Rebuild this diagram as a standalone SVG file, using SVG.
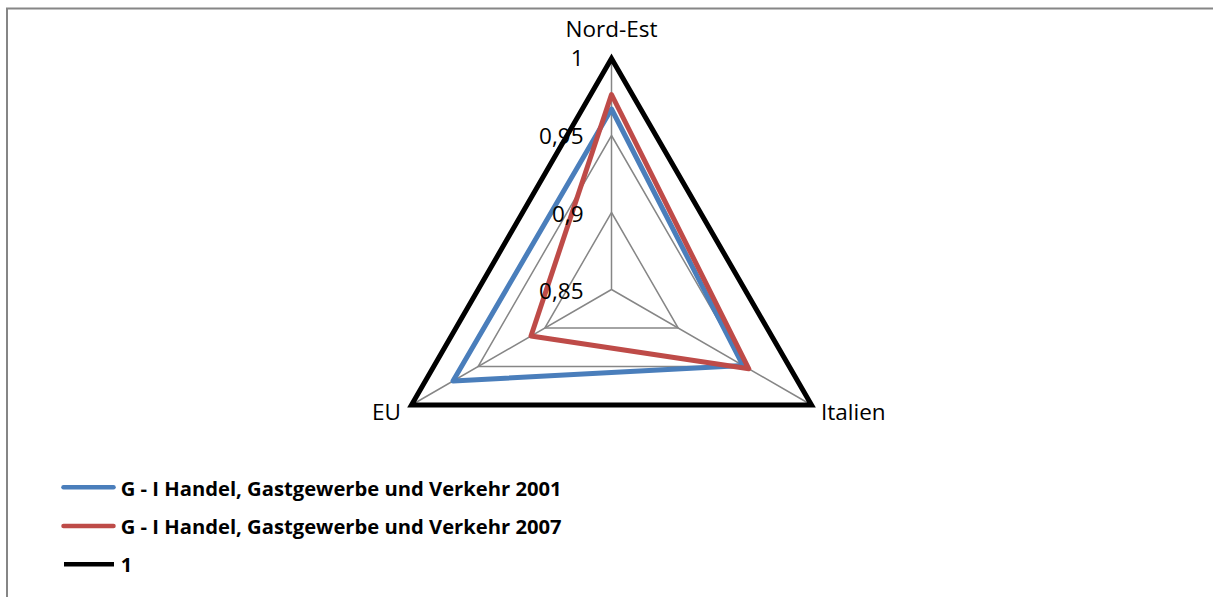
<svg xmlns="http://www.w3.org/2000/svg" width="1213" height="597" viewBox="0 0 1213 597">
<style>
.frame{fill:none;stroke:#868686;stroke-width:2}
.grid{fill:none;stroke:#868686;stroke-width:1.5}
.s1{fill:none;stroke:#4A7EBB;stroke-width:5;stroke-linejoin:round}
.s2{fill:none;stroke:#BE4B48;stroke-width:5;stroke-linejoin:round}
.s3{fill:none;stroke:#000;stroke-width:5;stroke-linejoin:miter;stroke-miterlimit:10}
.lab{font-family:"Open Sans","Liberation Sans",sans-serif;font-size:22.5px;fill:#000}
.leg{font-family:"Open Sans","Liberation Sans",sans-serif;font-size:20px;font-weight:bold;fill:#000}
</style>
<rect x="0" y="0" width="1213" height="597" fill="#fff"/>
<path class="frame" d="M7,597 V8.5 H1213"/>
<g id="grid">
<path class="grid" d="M611.5,289.5 L611.5,58.5 M611.5,289.5 L811.5,405 M611.5,289.5 L411.5,405"/>
<polygon class="grid" points="611.5,212.5 678.2,328 544.8,328"/>
<polygon class="grid" points="611.5,135.5 744.9,366.5 478.1,366.5"/>
</g>
<g id="connectors">
<polygon id="series-2001" class="s1" points="611.5,109 742.9,365.4 453,381"/>
<polygon id="series-2007" class="s2" points="611.5,94.5 748.8,368.8 531,336"/>
<polygon id="series-1" class="s3" points="611.5,58.5 811.5,405 411.5,405"/>
</g>
<g id="axis-labels">
<text id="nord-est" class="lab" x="611.5" y="37" text-anchor="middle">Nord-Est</text>
<text id="eu" class="lab" x="401" y="419.5" text-anchor="end">EU</text>
<text id="italien" class="lab" x="821" y="419.5">Italien</text>
</g>
<g id="scale-labels">
<text class="lab" x="583.5" y="66" text-anchor="end">1</text>
<text class="lab" x="583.5" y="143.5" text-anchor="end">0,95</text>
<text class="lab" x="583.5" y="221.5" text-anchor="end">0,9</text>
<text class="lab" x="583.5" y="298.5" text-anchor="end">0,85</text>
</g>
<g id="legend">
<g id="legend-2001">
<line x1="63.5" y1="487.3" x2="113.5" y2="487.3" stroke="#4A7EBB" stroke-width="4.5" stroke-linecap="round"/>
<text class="leg" x="120.7" y="496" textLength="441" lengthAdjust="spacingAndGlyphs">G - I Handel, Gastgewerbe und Verkehr 2001</text>
</g>
<g id="legend-2007">
<line x1="63.5" y1="526" x2="113.5" y2="526" stroke="#BE4B48" stroke-width="4.5" stroke-linecap="round"/>
<text class="leg" x="120.7" y="534.3" textLength="441" lengthAdjust="spacingAndGlyphs">G - I Handel, Gastgewerbe und Verkehr 2007</text>
</g>
<g id="legend-1">
<line x1="64" y1="564.3" x2="114" y2="564.3" stroke="#000" stroke-width="4.5"/>
<text class="leg" x="120.7" y="571.5">1</text>
</g>
</g>
</svg>
